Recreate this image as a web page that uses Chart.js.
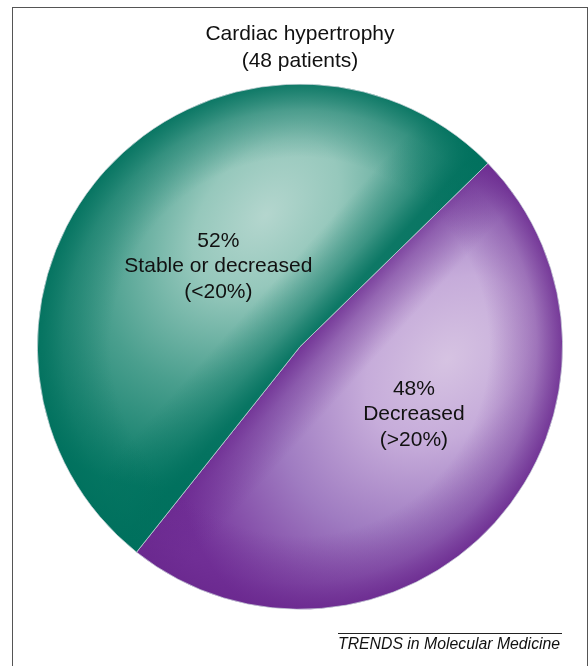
<!DOCTYPE html>
<html>
<head>
<meta charset="utf-8">
<script src="https://cdn.jsdelivr.net/npm/chart.js@4/dist/chart.umd.min.js"></script>
<style>
html, body { margin: 0; padding: 0; background: #fff; }
body { width: 588px; height: 666px; position: relative; overflow: hidden; font-family: "Liberation Sans", Arial, sans-serif; }
#frame { position: absolute; left: 12px; top: 7px; width: 576px; height: 720px; border: 1.5px solid #555; border-bottom: none; box-sizing: border-box; }
#chart { position: absolute; left: 0; top: 0; }
#source { position: absolute; left: 338px; top: 633px; width: 224px; border-top: 1px solid #222; padding-top: 1px; font-style: italic; font-size: 15.8px; line-height: 18px; color: #111; white-space: nowrap; }
</style>
</head>
<body>
<div id="frame"></div>
<canvas id="chart" width="588" height="666"></canvas>
<div id="source">TRENDS in Molecular Medicine</div>
<script>
// Datos del gráfico
const titleLines = ['Cardiac hypertrophy', '(48 patients)'];
const names = ['Decreased', 'Stable or decreased'];
const qualifiers = ['(>20%)', '(<20%)'];
const percents = [48, 52];

// Colores y sombreado de cada porción (morado, verde azulado)
const shades = [
    { rim: [106, 40, 142], hl: [0.56, 0.05], spread: 1.2, squash: 0.72, side: 1,
      stops: [[0, '#d6c3e2'], [0.3, '#c6acda'], [0.62, '#9f7bc1'], [1, '#74329a']] },
    { rim: [0, 112, 93], hl: [-0.13, -0.50], spread: 1.2, squash: 0.66, side: -1,
      stops: [[0, '#b4d6ce'], [0.28, '#96c8bc'], [0.62, '#4a9f8e'], [1, '#067864']] }
];
const chordAngle = -47.9 * Math.PI / 180;

// Posición de las etiquetas dentro de cada porción (ángulo, fracción del radio)
const labelAngle = [30.8, 224.5];
const labelDist = [0.505, 0.436];

function rgba(c, a) {
    return 'rgba(' + c[0] + ',' + c[1] + ',' + c[2] + ',' + a + ')';
}

function paintShade(s, cx, cy, r, w, h) {
    const c = document.createElement('canvas');
    c.width = w;
    c.height = h;
    const g = c.getContext('2d');
    g.fillStyle = rgba(s.rim, 1);
    g.fillRect(0, 0, w, h);

    // brillo elíptico
    g.save();
    g.translate(cx + s.hl[0] * r, cy + s.hl[1] * r);
    g.rotate(chordAngle);
    g.scale(1, s.squash);
    const rg = g.createRadialGradient(0, 0, 0, 0, 0, s.spread * r);
    s.stops.forEach(st => rg.addColorStop(st[0], st[1]));
    g.fillStyle = rg;
    g.fillRect(-3 * w, -6 * h, 6 * w, 12 * h);
    g.restore();

    // oscurecer junto a la línea divisoria
    const nx = s.side * Math.cos(chordAngle + Math.PI / 2);
    const ny = s.side * Math.sin(chordAngle + Math.PI / 2);
    const lg = g.createLinearGradient(cx, cy, cx + nx * 0.24 * r, cy + ny * 0.24 * r);
    lg.addColorStop(0, rgba(s.rim, 0.85));
    lg.addColorStop(0.35, rgba(s.rim, 0.45));
    lg.addColorStop(1, rgba(s.rim, 0));
    g.fillStyle = lg;
    g.fillRect(0, 0, w, h);

    // oscurecer el borde
    const eg = g.createRadialGradient(cx, cy, 0, cx, cy, r);
    eg.addColorStop(0, rgba(s.rim, 0));
    eg.addColorStop(0.72, rgba(s.rim, 0));
    eg.addColorStop(0.9, rgba(s.rim, 0.4));
    eg.addColorStop(1, rgba(s.rim, 0.85));
    g.fillStyle = eg;
    g.fillRect(0, 0, w, h);

    return g.createPattern(c, 'no-repeat');
}

const shadeCache = {};
function sliceShade(context) {
    const chart = context.chart;
    const area = chart.chartArea;
    const i = context.dataIndex;
    if (!area) return rgba(shades[i].rim, 1);
    const cx = (area.left + area.right) / 2;
    const cy = (area.top + area.bottom) / 2;
    const r = Math.min(area.width, area.height) / 2;
    const key = [i, cx, cy, r].join(':');
    if (!shadeCache[key]) shadeCache[key] = paintShade(shades[i], cx, cy, r, chart.width, chart.height);
    return shadeCache[key];
}

// Plugin para escribir las etiquetas dentro de las porciones
const sliceLabels = {
    id: 'sliceLabels',
    afterDatasetsDraw(chart) {
        const ctx = chart.ctx;
        const meta = chart.getDatasetMeta(0);
        ctx.save();
        ctx.font = '21px "Liberation Sans", Arial, sans-serif';
        ctx.fillStyle = '#111';
        ctx.textAlign = 'center';
        ctx.textBaseline = 'middle';
        meta.data.forEach((arc, i) => {
            const a = labelAngle[i] * Math.PI / 180;
            const x = arc.x + Math.cos(a) * labelDist[i] * arc.outerRadius;
            const y = arc.y + Math.sin(a) * labelDist[i] * arc.outerRadius;
            const lines = [percents[i] + '%', names[i], qualifiers[i]];
            lines.forEach((t, j) => ctx.fillText(t, x, y + (j - 1) * 25.5));
        });
        ctx.restore();
    }
};

new Chart(document.getElementById('chart').getContext('2d'), {
    type: 'pie',
    data: {
        labels: names.map((n, i) => n + ' ' + qualifiers[i]),
        datasets: [{
            data: percents,
            backgroundColor: sliceShade,
            borderColor: 'rgba(205,215,220,0.9)',
            borderWidth: 0.8,
            hoverOffset: 0
        }]
    },
    options: {
        responsive: false,
        animation: false,
        devicePixelRatio: 1,
        events: [],
        rotation: 45.7,
        layout: { padding: { left: 37, right: 25, top: 0, bottom: 56 } },
        plugins: {
            legend: { display: false },
            tooltip: { enabled: false },
            title: {
                display: true,
                text: titleLines,
                color: '#111',
                font: { family: '"Liberation Sans", Arial, sans-serif', size: 21, weight: 'normal', lineHeight: 1.27 },
                padding: { top: 21, bottom: 9 }
            }
        }
    },
    plugins: [sliceLabels]
});
</script>
</body>
</html>
